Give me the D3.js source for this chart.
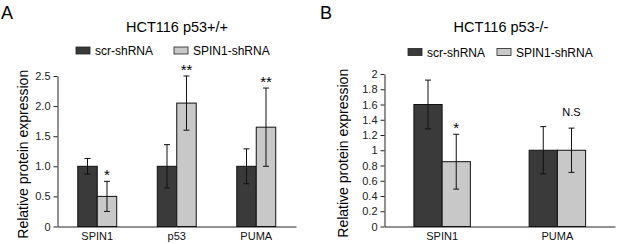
<!DOCTYPE html>
<html>
<head>
<meta charset="utf-8">
<script src="https://cdn.jsdelivr.net/npm/d3@7"></script>
<style>
  body { margin: 0; background: #fff; }
  svg { display: block; font-family: "Liberation Sans", Arial, sans-serif; }
</style>
</head>
<body>
<svg id="chart" width="617" height="244"></svg>
<script>
const seriesNames = ['scr-shRNA', 'SPIN1-shRNA'];
const colors = ['#3a3a3a', '#c8c8c8'];

// panel A
const categoriesA = ['SPIN1', 'p53', 'PUMA'];
const scrA = [1.0, 1.0, 1.0];
const scrErrA = [0.13, 0.36, 0.29];
const spinA = [0.5, 2.05, 1.65];
const spinErrA = [0.25, 0.45, 0.65];
const sigA = ['*', '**', '**'];
const ticksA = [0, 0.5, 1.0, 1.5, 2.0, 2.5];

// panel B
const categoriesB = ['SPIN1', 'PUMA'];
const scrB = [1.6, 1.0];
const scrErrB = [0.32, 0.31];
const spinB = [0.85, 1.0];
const spinErrB = [0.36, 0.29];
const sigB = ['*', 'N.S'];
const ticksB = [0, 0.2, 0.4, 0.6, 0.8, 1, 1.2, 1.4, 1.6, 1.8, 2];

const svg = d3.select('#chart');

function panel(opt) {
  const g = svg.append('g');
  const x = d3.scaleBand().domain(opt.cats).range([opt.x0, opt.x1]);
  const y = d3.scaleLinear().domain([0, opt.ymax]).range([opt.y0, opt.y1]);
  const bw = x.bandwidth() * 0.245;

  // panel letter
  g.append('text').attr('x', opt.letterX).attr('y', 19)
    .attr('font-size', 18).text(opt.letter);

  // title
  g.append('text').attr('x', opt.titleX).attr('y', 32)
    .attr('text-anchor', 'middle').attr('font-size', 14.5).text(opt.title);

  // legend
  seriesNames.forEach((n, i) => {
    g.append('rect').attr('x', opt.legX[i]).attr('y', opt.legY)
      .attr('width', 14).attr('height', 7)
      .attr('fill', colors[i]).attr('stroke', '#222').attr('stroke-width', 0.8);
    g.append('text').attr('x', opt.legX[i] + 19).attr('y', opt.legY + 8)
      .attr('font-size', 12).text(n);
  });

  // y axis
  const yAxis = d3.axisLeft(y).tickValues(opt.ticks).tickSize(4).tickSizeOuter(0)
    .tickFormat(opt.fmt);
  const ya = g.append('g').attr('transform', `translate(${opt.x0},0)`).call(yAxis);
  ya.select('.domain').attr('stroke', '#222');
  ya.selectAll('.tick line').attr('stroke', '#222');
  ya.selectAll('.tick text').attr('font-size', 11).attr('fill', '#222')
    .attr('font-family', '"Liberation Sans", Arial, sans-serif');

  // x axis
  const xAxis = d3.axisBottom(x).tickSize(0).tickSizeOuter(0).tickPadding(6);
  const xa = g.append('g').attr('transform', `translate(0,${opt.y0})`).call(xAxis);
  xa.select('.domain').attr('stroke', '#222');
  xa.selectAll('.tick text').attr('font-size', 11).attr('fill', '#111')
    .attr('font-family', '"Liberation Sans", Arial, sans-serif');

  // y label
  g.append('text')
    .attr('transform', `translate(${opt.labelX},${(opt.y0 + opt.y1) / 2 + 3}) rotate(-90)`)
    .attr('text-anchor', 'middle').attr('font-size', 14).text('Relative protein expression');

  const series = [
    { vals: opt.scr, errs: opt.scrErr },
    { vals: opt.spin, errs: opt.spinErr }
  ];
  series.forEach((s, si) => {
    opt.cats.forEach((c, ci) => {
      const cx = x(c) + x.bandwidth() / 2;
      const bx = si === 0 ? cx - bw : cx;
      const v = s.vals[ci], e = s.errs[ci];
      g.append('rect').attr('x', bx).attr('y', y(v))
        .attr('width', bw).attr('height', y(0) - y(v))
        .attr('fill', colors[si]).attr('stroke', '#111').attr('stroke-width', 1);
      const mx = bx + bw / 2;
      g.append('line').attr('x1', mx).attr('x2', mx)
        .attr('y1', y(v - e)).attr('y2', y(v + e)).attr('stroke', '#111');
      [v - e, v + e].forEach(t => {
        g.append('line').attr('x1', mx - 3).attr('x2', mx + 3)
          .attr('y1', y(t)).attr('y2', y(t)).attr('stroke', '#111');
      });
      if (si === 1) {
        const sg = opt.sig[ci];
        const star = sg.indexOf('*') >= 0;
        g.append('text').attr('x', mx).attr('y', y(v + e) - (star ? 1 : 12))
          .attr('text-anchor', 'middle').attr('font-size', star ? 15 : 11)
          .text(sg);
      }
    });
  });
}

panel({
  letter: 'A', letterX: 1, title: 'HCT116 p53+/+', titleX: 177,
  legX: [76, 174], legY: 47,
  cats: categoriesA, scr: scrA, scrErr: scrErrA, spin: spinA, spinErr: spinErrA, sig: sigA,
  ticks: ticksA, fmt: d => d === 0 ? '0' : d3.format('.1f')(d),
  ymax: 2.5, x0: 57.5, x1: 296, y0: 226.5, y1: 76, labelX: 28
});

panel({
  letter: 'B', letterX: 320, title: 'HCT116 p53-/-', titleX: 501,
  legX: [408, 497], legY: 48.5,
  cats: categoriesB, scr: scrB, scrErr: scrErrB, spin: spinB, spinErr: spinErrB, sig: sigB,
  ticks: ticksB, fmt: d => String(+d.toFixed(1)),
  ymax: 2, x0: 384.5, x1: 615, y0: 226.5, y1: 74, labelX: 348
});
</script>
</body>
</html>
